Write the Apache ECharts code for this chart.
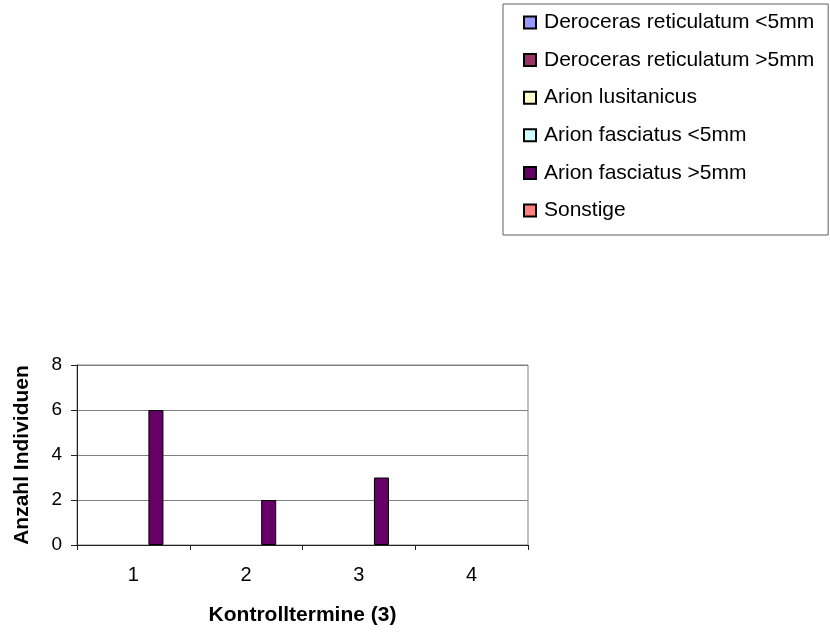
<!DOCTYPE html>
<html>
<head>
<meta charset="utf-8">
<script src="https://cdn.jsdelivr.net/npm/echarts@6/dist/echarts.min.js"></script>
<style>
html,body{margin:0;padding:0;background:#fff;}
#chart{width:830px;height:634px;}
</style>
</head>
<body>
<div id="chart"></div>
<script>
const categories = ['1', '2', '3', '4'];
const seriesNames = [
  'Deroceras reticulatum <5mm',
  'Deroceras reticulatum >5mm',
  'Arion lusitanicus',
  'Arion fasciatus <5mm',
  'Arion fasciatus >5mm',
  'Sonstige'
];
const derocerasSmall = [0, 0, 0, 0];
const derocerasLarge = [0, 0, 0, 0];
const arionLusitanicus = [0, 0, 0, 0];
const arionFasciatusSmall = [0, 0, 0, 0];
const arionFasciatusLarge = [6, 2, 3, 0];
const sonstige = [0, 0, 0, 0];
const yTicks = [0, 2, 4, 6, 8];

const seriesData = [derocerasSmall, derocerasLarge, arionLusitanicus, arionFasciatusSmall, arionFasciatusLarge, sonstige];
const colors = ['#9999FF', '#993366', '#FFFFCC', '#CCFFFF', '#660066', '#FF8080'];
const FONT = 'Liberation Sans, Arial, sans-serif';

const chart = echarts.init(document.getElementById('chart'), null, {renderer: 'canvas'});
chart.setOption({
  animation: false,
  backgroundColor: '#fff',
  color: colors,
  legend: {
    orient: 'vertical',
    left: 503,
    top: 4,
    padding: [8, 14, 14, 20],
    itemGap: 16.6,
    itemWidth: 12,
    itemHeight: 12,
    icon: 'rect',
    borderColor: '#606060',
    borderWidth: 1,
    backgroundColor: '#fff',
    textStyle: {fontFamily: FONT, fontSize: 21, color: '#000', padding: [0, 0, 0, 3]},
    data: seriesNames
  },
  grid: {
    left: 77,
    right: 302,
    top: 365,
    bottom: 89,
    show: true,
    borderColor: '#808080',
    borderWidth: 1,
    containLabel: false
  },
  xAxis: {
    type: 'category',
    data: categories,
    name: 'Kontrolltermine (3)',
    nameLocation: 'middle',
    nameGap: 60,
    nameTextStyle: {fontFamily: FONT, fontSize: 21, fontWeight: 'bold', color: '#000'},
    axisLine: {lineStyle: {color: '#222', width: 1}},
    axisTick: {show: true, length: 5, lineStyle: {color: '#222'}},
    axisLabel: {fontFamily: FONT, fontSize: 20, color: '#000', margin: 20},
    splitLine: {show: false}
  },
  yAxis: {
    type: 'value',
    min: yTicks[0],
    max: yTicks[yTicks.length - 1],
    interval: 2,
    name: 'Anzahl Individuen',
    nameLocation: 'middle',
    nameGap: 44,
    nameTextStyle: {fontFamily: FONT, fontSize: 21, fontWeight: 'bold', color: '#000'},
    axisLine: {show: true, lineStyle: {color: '#222', width: 1}},
    axisTick: {show: true, length: 6, lineStyle: {color: '#222'}},
    axisLabel: {fontFamily: FONT, fontSize: 19, color: '#000', margin: 15},
    splitLine: {show: true, lineStyle: {color: '#808080', width: 1}}
  },
  series: seriesNames.map((name, i) => ({
    name: name,
    type: 'bar',
    z: 1,
    data: seriesData[i].map(v => ({
      value: v,
      itemStyle: v === 0 ? {borderWidth: 0, opacity: 0} : undefined
    })),
    barGap: '0%',
    barCategoryGap: '20%',
    itemStyle: {color: colors[i], borderColor: '#000', borderWidth: 1}
  }))
});
</script>
</body>
</html>
